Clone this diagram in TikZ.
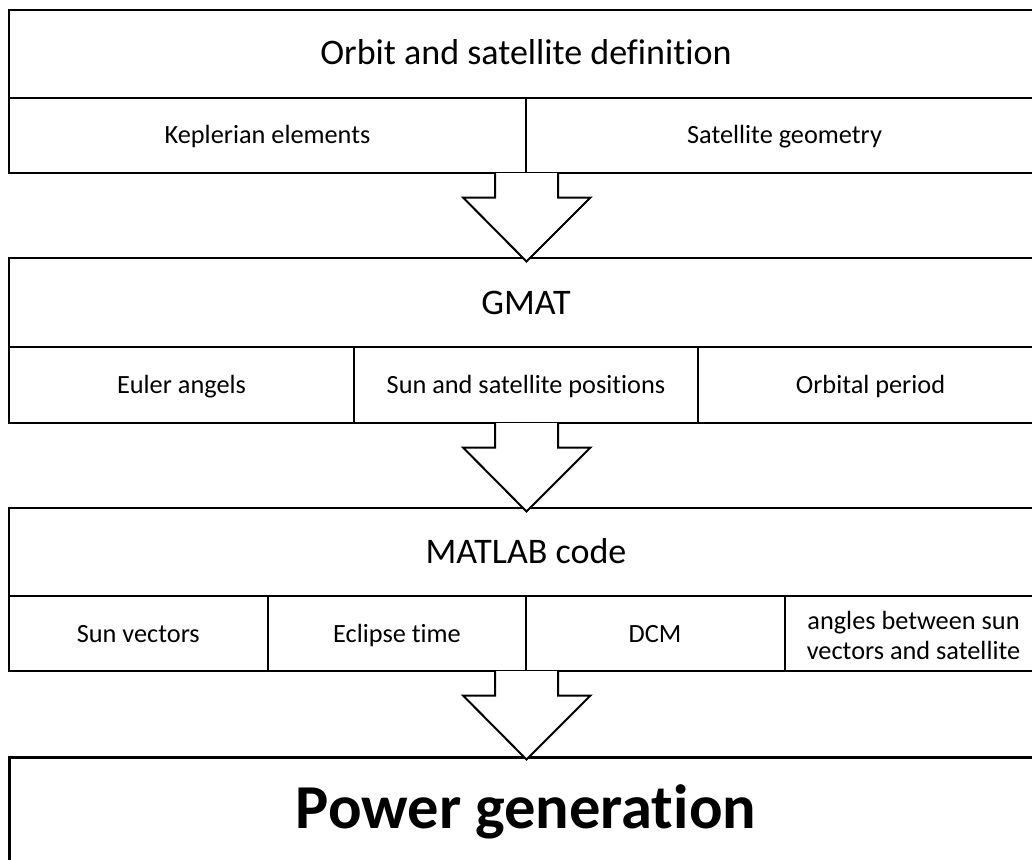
\documentclass[tikz,border=0pt]{standalone}
\usepackage{fontspec}
\setmainfont[Ligatures=CommonOff]{Carlito}
\begin{document}
\begin{tikzpicture}[x=1pt,y=-1pt,line width=2pt,
  small/.style={font=\fontsize{26.3}{30}\selectfont, anchor=base, inner sep=0pt},
  title/.style={font=\fontsize{36}{42}\selectfont, anchor=base, inner sep=0pt},
  bigtitle/.style={font=\fontsize{62.5}{70}\selectfont\bfseries, anchor=base, inner sep=0pt},
  blockarrow/.style={draw, fill=white, line width=2pt, line join=miter}]
\useasboundingbox (0,0) rectangle (1032,859);
\begin{scope}
\clip (0,0) rectangle (1032,859);
% box 1
\draw (9,10) rectangle (1043,173);
\draw (9,98) -- (1043,98);
\draw (526,98) -- (526,173);
% box 2
\draw (9,258) rectangle (1043,423);
\draw (9,347) -- (1043,347);
\draw (353.7,347) -- (353.7,423);
\draw (698.3,347) -- (698.3,423);
% box 3
\draw (9,508) rectangle (1043,671);
\draw (9,596) -- (1043,596);
\draw (267.5,596) -- (267.5,671);
\draw (526,596) -- (526,671);
\draw (784.5,596) -- (784.5,671);
% box 4
\draw[line width=3pt] (9,757.5) rectangle (1043,900);
\end{scope}

% texts
\node[title] (t1) at (526,64) {Orbit and satellite definition};
\node[small] (kep) at (267.5,143) {Keplerian elements};
\node[small] (geo) at (784.5,143) {Satellite geometry};

\node[title] (t2) at (526,314) {GMAT};
\node[small] (eul) at (181.5,393) {Euler angels};
\node[small] (pos) at (526,393) {Sun and satellite positions};
\node[small] (per) at (870.5,393) {Orbital period};

\node[title] (t3) at (526,563) {MATLAB code};
\node[small] (sv) at (138.3,642) {Sun vectors};
\node[small] (ecl) at (397,642) {Eclipse time};
\node[small] (dcm) at (655,642) {DCM};
\node[small, anchor=center, align=center] (ang) at (913.5,635.5) {angles between sun\\vectors and satellite};

\node[bigtitle] (t4) at (526,828) {Power generation};

% block arrows
\foreach \n/\top in {a1/173, a2/423, a3/671} {
  \coordinate (\n-tl) at (495,\top);
  \coordinate (\n-tr) at (558,\top);
  \coordinate (\n-tip) at (526.5,\top+88.5);
  \path[blockarrow] (\n-tl) -- ++(0,24.5) -- (463,\top+24.5) -- (\n-tip)
     -- (590.5,\top+24.5) -- (558,\top+24.5) -- (\n-tr);
}
\end{tikzpicture}
\end{document}
